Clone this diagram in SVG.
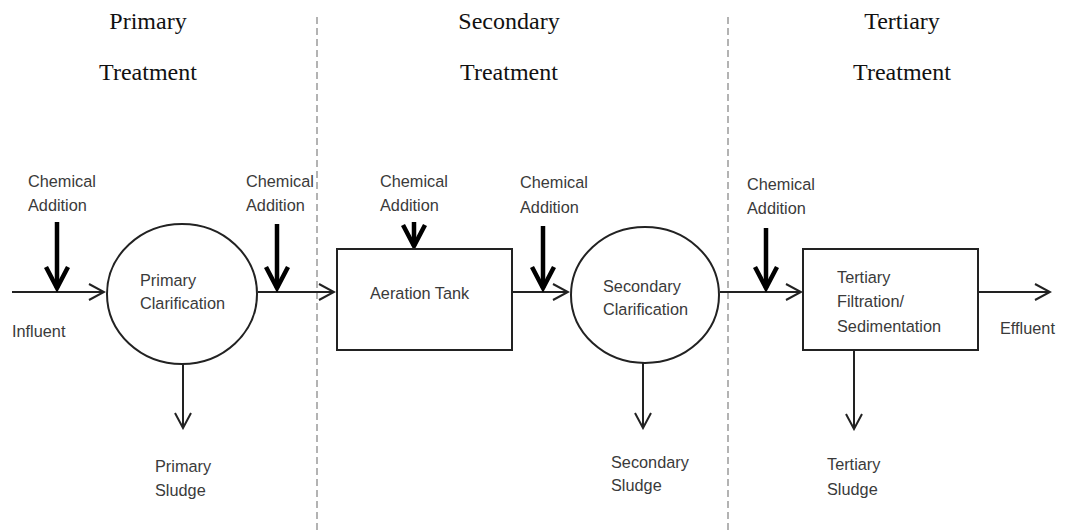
<svg xmlns="http://www.w3.org/2000/svg" width="1065" height="531" viewBox="0 0 1065 531">
<style>
.hdr{font-family:"Liberation Serif","Times New Roman",serif;font-size:24px;fill:#111;text-anchor:middle}
.lbl{font-family:"Liberation Sans",Arial,sans-serif;font-size:16.3px;fill:#3a3a3a}
.shape{fill:#fff;stroke:#222;stroke-width:2}
.flow{fill:none;stroke:#222;stroke-width:2;marker-end:url(#arr)}
.chem{fill:none;stroke:#000;stroke-width:4.5;marker-end:url(#carr)}
.div{stroke:#9a9a9a;stroke-width:1.5;stroke-dasharray:7 4}
</style>
<defs>
<marker id="arr" markerUnits="userSpaceOnUse" viewBox="-18 -10 20 20" markerWidth="20" markerHeight="20" refX="0" refY="0" orient="auto">
<path d="M-15,-8 L0,0 L-15,8" fill="none" stroke="#222" stroke-width="2"/>
</marker>
<marker id="carr" markerUnits="userSpaceOnUse" viewBox="-26 -15 30 30" markerWidth="30" markerHeight="30" refX="0" refY="0" orient="auto">
<path d="M-21,-11 L0,0 L-21,11" fill="none" stroke="#000" stroke-width="4.5" stroke-linejoin="miter"/>
</marker>
</defs>
<rect width="1065" height="531" fill="#fff"/>
<g id="dividers">
<line class="div" x1="317" y1="17" x2="317" y2="531"/>
<line class="div" x1="728" y1="17" x2="728" y2="531"/>
</g>
<g id="headers">
<text class="hdr" x="148" y="29">Primary</text>
<text class="hdr" x="148" y="80">Treatment</text>
<text class="hdr" x="509" y="29">Secondary</text>
<text class="hdr" x="509" y="80">Treatment</text>
<text class="hdr" x="902" y="29">Tertiary</text>
<text class="hdr" x="902" y="80">Treatment</text>
</g>
<g id="connectors">
<line class="flow" x1="12" y1="292" x2="104" y2="292"/>
<line class="flow" x1="258" y1="292" x2="334" y2="292"/>
<line class="flow" x1="512" y1="292" x2="568" y2="292"/>
<line class="flow" x1="720" y1="292" x2="801" y2="292"/>
<line class="flow" x1="978" y1="292" x2="1050" y2="292"/>
<line class="flow" x1="183" y1="364" x2="183" y2="428"/>
<line class="flow" x1="643" y1="363" x2="643" y2="428"/>
<line class="flow" x1="854" y1="350" x2="854" y2="429"/>
<line class="chem" x1="57" y1="222" x2="57" y2="288"/>
<line class="chem" x1="277" y1="224" x2="277" y2="288"/>
<line class="chem" x1="414" y1="222" x2="414" y2="246"/>
<line class="chem" x1="543" y1="226" x2="543" y2="288"/>
<line class="chem" x1="766" y1="228" x2="766" y2="288"/>
</g>
<g id="primary-clarification">
<ellipse class="shape" cx="182" cy="294" rx="75" ry="70"/>
<text class="lbl" x="140" y="286">Primary</text>
<text class="lbl" x="140" y="309">Clarification</text>
</g>
<g id="aeration-tank">
<rect class="shape" x="337" y="249" width="175" height="101"/>
<text class="lbl" x="370" y="299">Aeration Tank</text>
</g>
<g id="secondary-clarification">
<ellipse class="shape" cx="645" cy="295" rx="74" ry="68"/>
<text class="lbl" x="603" y="292">Secondary</text>
<text class="lbl" x="603" y="315">Clarification</text>
</g>
<g id="tertiary-filtration">
<rect class="shape" x="803" y="249" width="175" height="101"/>
<text class="lbl" x="837" y="283">Tertiary</text>
<text class="lbl" x="837" y="307">Filtration/</text>
<text class="lbl" x="837" y="332">Sedimentation</text>
</g>
<g id="labels">
<text class="lbl" x="12" y="337">Influent</text>
<text class="lbl" x="1000" y="334">Effluent</text>
<text class="lbl" x="28" y="187">Chemical</text>
<text class="lbl" x="28" y="211">Addition</text>
<text class="lbl" x="246" y="187">Chemical</text>
<text class="lbl" x="246" y="211">Addition</text>
<text class="lbl" x="380" y="187">Chemical</text>
<text class="lbl" x="380" y="211">Addition</text>
<text class="lbl" x="520" y="188">Chemical</text>
<text class="lbl" x="520" y="213">Addition</text>
<text class="lbl" x="747" y="190">Chemical</text>
<text class="lbl" x="747" y="214">Addition</text>
<text class="lbl" x="155" y="472">Primary</text>
<text class="lbl" x="155" y="496">Sludge</text>
<text class="lbl" x="611" y="468">Secondary</text>
<text class="lbl" x="611" y="491">Sludge</text>
<text class="lbl" x="827" y="470">Tertiary</text>
<text class="lbl" x="827" y="495">Sludge</text>
</g>
</svg>
